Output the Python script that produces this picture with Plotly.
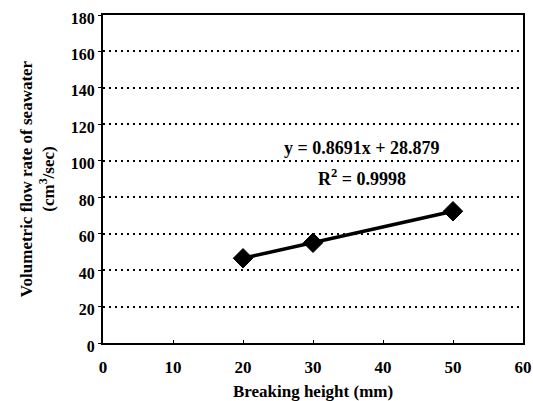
import plotly.graph_objects as go

breaking_height = [20, 30, 50]
flow_rate = [46.5, 55.0, 72.3]
x_ticks = [0, 10, 20, 30, 40, 50, 60]
y_ticks = [0, 20, 40, 60, 80, 100, 120, 140, 160, 180]

FONT = "Liberation Serif"

fig = go.Figure()
fig.add_trace(go.Scatter(
    x=breaking_height, y=flow_rate, mode="lines+markers",
    line=dict(color="black", width=3.5),
    marker=dict(symbol="diamond", size=15, color="black", line=dict(color="black", width=1)),
    showlegend=False, cliponaxis=False,
))

fig.add_annotation(x=37, y=107, text="<b>y = 0.8691x + 28.879</b>", showarrow=False,
                   font=dict(family=FONT, size=18, color="black"))
fig.add_annotation(x=37, y=91, text="<b>R<sup>2</sup> = 0.9998</b>", showarrow=False,
                   font=dict(family=FONT, size=18, color="black"))

fig.update_layout(
    width=533, height=401,
    margin=dict(l=103, r=10, t=15, b=58),
    paper_bgcolor="white", plot_bgcolor="white",
    font=dict(family=FONT, color="black"),
    xaxis=dict(
        range=[0, 60], tickvals=x_ticks, ticktext=[f"<b>{v}</b>" for v in x_ticks],
        showgrid=False, zeroline=False, automargin=False,
        showline=True, linecolor="black", linewidth=2, mirror=True,
        ticks="inside", ticklen=3, tickcolor="black",
        ticklabeloverflow="allow", ticklabelstandoff=8,
        tickfont=dict(family=FONT, size=17),
        title=dict(text="<b>Breaking height (mm)</b>", font=dict(family=FONT, size=17), standoff=10),
    ),
    yaxis=dict(
        range=[0, 180], tickvals=y_ticks, ticktext=[f"<b>{v}</b>" for v in y_ticks],
        showgrid=True, gridcolor="black", gridwidth=1.5, griddash="2px,4px",
        zeroline=False, automargin=False,
        showline=True, linecolor="black", linewidth=2, mirror=True,
        ticks="outside", ticklen=3, tickcolor="black",
        ticklabeloverflow="allow", ticklabelshift=3,
        tickfont=dict(family=FONT, size=16),
        title=dict(text="<b>Volumetric flow rate of seawater<br>(cm<sup>3</sup>/sec)</b>",
                   font=dict(family=FONT, size=17), standoff=12),
    ),
)

fig.write_html(
    "out.html",
    config={"displayModeBar": False},
    post_script="document.body.style.margin='0';document.body.style.overflow='hidden';",
)
